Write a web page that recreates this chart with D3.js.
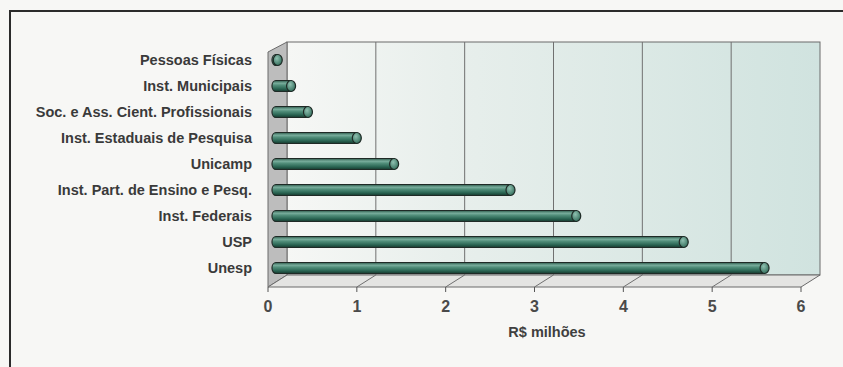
<!DOCTYPE html>
<html>
<head>
<meta charset="utf-8">
<script src="https://cdn.jsdelivr.net/npm/d3@7"></script>
<style>
  html, body { margin: 0; padding: 0; background: #f7f7f5; }
  svg { display: block; }
  .lbl { font-family: "Liberation Sans", Arial, sans-serif; font-weight: bold; fill: #3a3a3a; }
</style>
</head>
<body>
<svg id="chart" width="843" height="367"></svg>
<script>
// Funding by institution, in millions of reais
const categories = [
  "Pessoas Físicas",
  "Inst. Municipais",
  "Soc. e Ass. Cient. Profissionais",
  "Inst. Estaduais de Pesquisa",
  "Unicamp",
  "Inst. Part. de Ensino e Pesq.",
  "Inst. Federais",
  "USP",
  "Unesp"
];
const values = [0.02, 0.17, 0.36, 0.91, 1.33, 2.64, 3.38, 4.59, 5.50];
const tickValues = [0, 1, 2, 3, 4, 5, 6];
const axisTitle = "R$ milhões";

const svg = d3.select("#chart");

// 3-D box geometry: front floor edge, depth offset
const floorY = 287, topY = 42;
const depthX = 19, depthY = -12;
const x = d3.scaleLinear().domain([0, 6]).range([268, 801]);
const barDepth = 0.42;
const xb = v => x(v) + depthX * barDepth;
const y = d3.scalePoint().domain(categories).range([60, 268]);

const defs = svg.append("defs");
const wallGrad = defs.append("linearGradient").attr("id", "wall")
  .attr("x1", "0%").attr("x2", "100%").attr("y1", "0%").attr("y2", "0%");
wallGrad.append("stop").attr("offset", "0%").attr("stop-color", "#f6f7f5");
wallGrad.append("stop").attr("offset", "30%").attr("stop-color", "#e8efec");
wallGrad.append("stop").attr("offset", "100%").attr("stop-color", "#d0e3df");

const barGrad = defs.append("linearGradient").attr("id", "bar")
  .attr("x1", "0%").attr("x2", "0%").attr("y1", "0%").attr("y2", "100%");
[["0%", "#2d5a4b"], ["25%", "#78ad9c"], ["45%", "#4f8c78"], ["75%", "#2a6553"], ["100%", "#163a2e"]]
  .forEach(([o, c]) => barGrad.append("stop").attr("offset", o).attr("stop-color", c));

const capGrad = defs.append("radialGradient").attr("id", "cap")
  .attr("cx", "40%").attr("cy", "35%").attr("r", "70%");
capGrad.append("stop").attr("offset", "0%").attr("stop-color", "#8fc0b0");
capGrad.append("stop").attr("offset", "100%").attr("stop-color", "#2f6b58");

// Outer frame (top and left rules)
svg.append("path").attr("d", "M10,367 L10,11 L843,11")
  .attr("fill", "none").attr("stroke", "#2b2b2b").attr("stroke-width", 2);

const edge = "#6a6a6a";
const bx0 = x(0) + depthX, bx6 = x(6) + depthX, by = floorY + depthY;

// Back wall
svg.append("rect").attr("x", bx0).attr("y", topY)
  .attr("width", bx6 - bx0).attr("height", by - topY)
  .attr("fill", "url(#wall)").attr("stroke", edge).attr("stroke-width", 1);

// Gridlines on the back wall
svg.append("g").selectAll("line").data(tickValues.slice(1, -1)).join("line")
  .attr("x1", d => x(d) + depthX).attr("x2", d => x(d) + depthX)
  .attr("y1", topY).attr("y2", by)
  .attr("stroke", "#707070").attr("stroke-width", 1);

// Left side wall
svg.append("path")
  .attr("d", `M${x(0)},${topY - depthY - 2} L${bx0},${topY} L${bx0},${by} L${x(0)},${floorY} Z`)
  .attr("fill", "#bdbdbd").attr("stroke", edge).attr("stroke-width", 1);

// Floor
svg.append("path")
  .attr("d", `M${x(0)},${floorY} L${bx0},${by} L${bx6},${by} L${x(6)},${floorY} Z`)
  .attr("fill", "#e4e4e2").attr("stroke", edge).attr("stroke-width", 1);

// Floor gridlines and tick marks
svg.append("g").selectAll("line").data(tickValues.slice(1, -1)).join("line")
  .attr("x1", d => x(d)).attr("x2", d => x(d) + depthX)
  .attr("y1", floorY).attr("y2", by)
  .attr("stroke", "#707070").attr("stroke-width", 1);
svg.append("g").selectAll("line").data(tickValues).join("line")
  .attr("x1", d => x(d)).attr("x2", d => x(d))
  .attr("y1", floorY).attr("y2", floorY + 5)
  .attr("stroke", "#555").attr("stroke-width", 1);

// Tick labels
svg.append("g").selectAll("text").data(tickValues).join("text")
  .attr("class", "lbl")
  .attr("x", d => x(d)).attr("y", floorY + 25)
  .attr("text-anchor", "middle")
  .style("font-size", "16px").style("fill", "#4a4a4a")
  .text(d => d);

// Axis title
svg.append("text").attr("class", "lbl")
  .attr("x", 547).attr("y", 337)
  .attr("text-anchor", "middle")
  .style("font-size", "14.5px").style("fill", "#3f3f3f")
  .text(axisTitle);

// Category labels
svg.append("g").selectAll("text").data(categories).join("text")
  .attr("class", "lbl")
  .attr("x", 252).attr("y", d => y(d) + 5)
  .attr("text-anchor", "end")
  .style("font-size", "14.5px")
  .text(d => d);

// Cylinders
const r = 5.5;
const bars = svg.append("g").selectAll("g").data(values).join("g");
bars.append("path")
  .attr("d", (v, i) => {
    const cy = y(categories[i]);
    const x0 = xb(0), x1 = xb(v);
    return `M${x1},${cy - r} L${x0},${cy - r} A4,${r} 0 0 0 ${x0},${cy + r} L${x1},${cy + r} Z`;
  })
  .attr("fill", "url(#bar)").attr("stroke", "#1f2a26").attr("stroke-width", 1.2);
bars.append("ellipse")
  .attr("cx", v => xb(v)).attr("cy", (v, i) => y(categories[i]))
  .attr("rx", 4.5).attr("ry", r)
  .attr("fill", "url(#cap)").attr("stroke", "#1f2a26").attr("stroke-width", 1.2);
</script>
</body>
</html>
